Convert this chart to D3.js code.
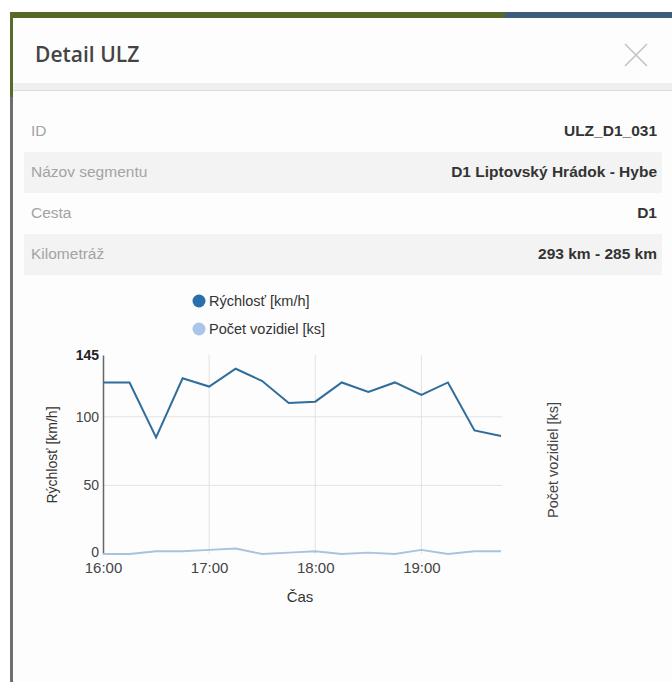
<!DOCTYPE html>
<html>
<head>
<meta charset="utf-8">
<script src="https://d3js.org/d3.v7.min.js"></script>
<style>
    body{
        margin: 0;
        width: 672px;
        height: 682px;
        overflow: hidden;
        background: #fff;
        font-family: "Liberation Sans", Arial, sans-serif;
        position: relative;
    }
    .abs{ position: absolute; }
    #modal{
        left: 10px; top: 18px; width: 662px; height: 664px;
        background: #fdfdfd;
        border-left: 3px solid #6f6f6f;
        box-sizing: border-box;
    }
    #title{
        left: 35px; top: 40px; margin: 0;
        font-family: "Open Sans", sans-serif;
        font-weight: 600; font-size: 21px; color: #444;
    }
    .row{
        left: 24px; width: 638px; height: 41px;
    }
    .row .lab{ position: absolute; left: 7px; top: 11px; font-size: 15.5px; color: #a3a3a3; }
    .row .val{ position: absolute; right: 5px; top: 11px; font-size: 15.5px; font-weight: bold; color: #333; }
    .axis text{ font-family: "Liberation Sans", Arial, sans-serif; font-size: 14px; fill: #444; }
</style>
</head>
<body>
<script>
// info table
var rowLabels = ['ID', 'Názov segmentu', 'Cesta', 'Kilometráž'];
var rowValues = ['ULZ_D1_031', 'D1 Liptovský Hrádok - Hybe', 'D1', '293 km - 285 km'];

// chart data (15 minute intervals)
var times = ['16:00','16:15','16:30','16:45','17:00','17:15','17:30','17:45',
             '18:00','18:15','18:30','18:45','19:00','19:15','19:30','19:45'];
var speed = [125, 125, 85, 128, 122, 135, 126, 110, 111, 125, 118, 125, 116, 125, 90, 86];
var counts = [0, 0, 2, 2, 3, 4, 0, 1, 2, 0, 1, 0, 3, 0, 2, 2];
var yTicks = [0, 50, 100, 145];
var legendNames = ['Rýchlosť [km/h]', 'Počet vozidiel [ks]'];

var body = d3.select('body');

// top strip behind modal
body.append('div').attr('class', 'abs')
    .style('left', '10px').style('top', '12px').style('width', '495px').style('height', '7px')
    .style('background', '#566a25');
body.append('div').attr('class', 'abs')
    .style('left', '505px').style('top', '12px').style('width', '167px').style('height', '7px')
    .style('background', '#3e5d7c');

body.append('div').attr('id', 'modal').attr('class', 'abs');
// olive edge on the upper part of the left border
body.append('div').attr('class', 'abs')
    .style('left', '10px').style('top', '12px').style('width', '3px').style('height', '85px')
    .style('background', '#5a6a2c');

body.append('h1').attr('id', 'title').attr('class', 'abs').text('Detail ULZ');

// close cross
var x_ = body.append('svg').attr('class', 'abs')
    .style('left', '623px').style('top', '42px')
    .attr('width', 26).attr('height', 26);
x_.append('path').attr('d', 'M2,2L24,24M24,2L2,24')
    .attr('stroke', '#c4c4c4').attr('stroke-width', 1.6);

// header separator
body.append('div').attr('class', 'abs')
    .style('left', '13px').style('top', '83px').style('width', '659px').style('height', '7px')
    .style('background', '#efefef').style('border-bottom', '1px solid #dcdcdc');

// rows
rowLabels.forEach(function(l, i){
    var r = body.append('div').attr('class', 'abs row')
        .style('top', (111 + i * 41) + 'px')
        .style('background', i % 2 ? '#f3f3f3' : 'transparent');
    r.append('span').attr('class', 'lab').text(l);
    r.append('span').attr('class', 'val').text(rowValues[i]);
});

// chart
var top0 = 280;
var svg = body.append('svg').attr('class', 'abs')
    .style('left', '0px').style('top', top0 + 'px')
    .attr('width', 672).attr('height', 340);

var parse = d3.timeParse('%H:%M');
var dates = times.map(parse);

var xScale = d3.scaleTime()
    .domain([dates[0], dates[dates.length - 1]])
    .range([103, 501]);
var yScale = d3.scaleLinear()
    .domain([0, 145])
    .range([274, 75]);
var y2Scale = d3.scaleLinear()
    .domain([0, 145])
    .range([274, 75]);

var hourTicks = d3.timeHour.range(parse('16:00'), parse('19:01'));

// grid
svg.append('g').selectAll('line.h')
    .data(yTicks.filter(d => d > 0 && d < 145))
    .enter().append('line')
    .attr('x1', 103).attr('x2', 502)
    .attr('y1', d => yScale(d)).attr('y2', d => yScale(d))
    .attr('stroke', '#e2e2e2');
svg.append('g').selectAll('line.v')
    .data(hourTicks.slice(1))
    .enter().append('line')
    .attr('x1', d => xScale(d)).attr('x2', d => xScale(d))
    .attr('y1', yScale(145)).attr('y2', yScale(0))
    .attr('stroke', '#e2e2e2');

// axes
var yAxis = svg.append('g').attr('class', 'axis')
    .attr('transform', 'translate(103,0)')
    .call(d3.axisLeft(yScale).tickValues(yTicks).tickSize(0).tickPadding(4));
yAxis.select('.domain').attr('stroke', '#666').attr('stroke-width', 1.5);
yAxis.selectAll('text').filter(d => d === 145).style('font-weight', 'bold').style('fill', '#222');
yAxis.selectAll('text').filter(d => d === 0).attr('dy', '0.15em');

var xAxis = svg.append('g').attr('class', 'axis')
    .attr('transform', 'translate(0,' + yScale(0) + ')')
    .call(d3.axisBottom(xScale).tickValues(hourTicks).tickFormat(d3.timeFormat('%H:%M')).tickSize(0).tickPadding(8));
xAxis.select('.domain').remove();
xAxis.selectAll('text').style('font-size', '15px');

// lines
var speedLine = d3.line().x((d, i) => xScale(dates[i])).y(d => yScale(d));
var countLine = d3.line().x((d, i) => xScale(dates[i])).y(d => y2Scale(d));

svg.append('path').datum(counts)
    .attr('d', countLine)
    .attr('fill', 'none').attr('stroke', '#a9c3dc').attr('stroke-width', 1.8);
svg.append('path').datum(speed)
    .attr('d', speedLine)
    .attr('fill', 'none').attr('stroke', '#2f6d9b').attr('stroke-width', 2);

// axis titles
svg.append('text').text('Rýchlosť [km/h]')
    .attr('transform', 'translate(57,' + 175 + ') rotate(-90)')
    .attr('text-anchor', 'middle')
    .style('font-size', '14px').style('fill', '#333');
svg.append('text').text('Počet vozidiel [ks]')
    .attr('transform', 'translate(558,' + 180 + ') rotate(-90)')
    .attr('text-anchor', 'middle')
    .style('font-size', '14.5px').style('fill', '#444');
svg.append('text').text('Čas')
    .attr('x', 300).attr('y', 322)
    .attr('text-anchor', 'middle')
    .style('font-size', '15px').style('fill', '#333');

// legend
var legendColors = ['#2a6fad', '#aac5e8'];
var legend = svg.append('g').selectAll('g')
    .data(legendNames)
    .enter().append('g')
    .attr('transform', (d, i) => 'translate(199,' + (21 + i * 28) + ')');
legend.append('circle').attr('r', 6.5).attr('fill', (d, i) => legendColors[i]);
legend.append('text').text(d => d)
    .attr('x', 10).attr('y', 5)
    .style('font-size', '14.5px').style('fill', '#333');
</script>
</body>
</html>
